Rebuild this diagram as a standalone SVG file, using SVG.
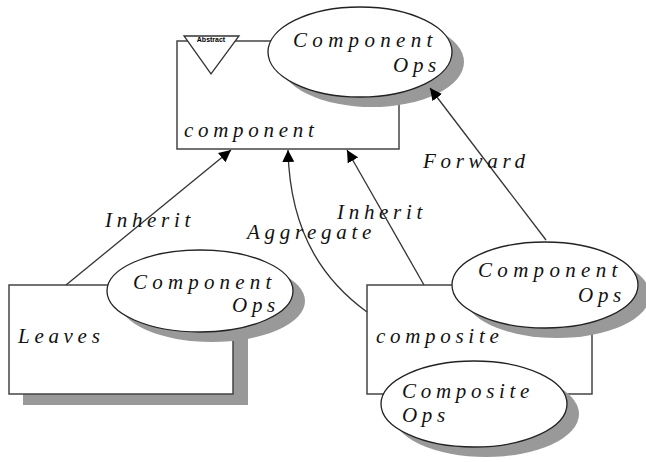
<svg xmlns="http://www.w3.org/2000/svg" width="646" height="462" viewBox="0 0 646 462">
<style>
.box{fill:#fff;stroke:#444;stroke-width:1.5}
.ell{fill:#fff;stroke:#222;stroke-width:1.3}
.sh{fill:#999;stroke:none}
.t{font-family:"Liberation Serif",serif;font-style:italic;font-size:21px;letter-spacing:4.7px;fill:#111}
.e{stroke:#333;stroke-width:1.3;fill:none;marker-end:url(#ah)}
</style>
<defs>
<marker id="ah" viewBox="0 0 10 10" refX="10" refY="5" markerWidth="12" markerHeight="12" markerUnits="userSpaceOnUse" orient="auto">
<path d="M0,0 L10,5 L0,10 z" fill="#000"/>
</marker>
</defs>
<rect width="646" height="462" fill="#fff"/>
<g id="component">
<rect class="box" x="177" y="41" width="222" height="108"/>
<polygon points="184,36 239,36 211,74" fill="#fff" stroke="#333" stroke-width="1.3"/>
<text x="211" y="42" font-family="Liberation Sans,sans-serif" font-size="7" font-weight="bold" text-anchor="middle" fill="#000">Abstract</text>
<text class="t" x="184" y="137">component</text>
</g>
<g id="component-ops-top">
<ellipse class="sh" cx="372" cy="62" rx="92" ry="45"/>
<ellipse class="ell" cx="360" cy="52" rx="92" ry="45"/>
<text class="t" x="293" y="47" textLength="144" lengthAdjust="spacing">Component</text>
<text class="t" x="441" y="72" text-anchor="end">Ops</text>
</g>
<g id="leaves">
<rect class="sh" x="23" y="296" width="225" height="109"/>
<rect class="box" x="9" y="285" width="224" height="109"/>
<text class="t" x="18" y="343">Leaves</text>
</g>
<g id="leaves-ops">
<ellipse class="sh" cx="212" cy="301" rx="93" ry="41"/>
<ellipse class="ell" cx="200" cy="291" rx="93" ry="41"/>
<text class="t" x="133" y="289" textLength="143" lengthAdjust="spacing">Component</text>
<text class="t" x="280" y="312" text-anchor="end">Ops</text>
</g>
<g id="composite">
<rect class="box" x="367" y="285" width="225" height="109"/>
<text class="t" x="376" y="343">composite</text>
</g>
<g id="composite-component-ops">
<ellipse class="sh" cx="557" cy="295" rx="93" ry="43"/>
<ellipse class="ell" cx="545" cy="285" rx="93" ry="43"/>
<text class="t" x="478" y="277" textLength="144" lengthAdjust="spacing">Component</text>
<text class="t" x="626" y="302" text-anchor="end">Ops</text>
</g>
<g id="composite-ops">
<ellipse class="sh" cx="486" cy="414" rx="93" ry="43"/>
<ellipse class="ell" cx="474" cy="404" rx="93" ry="43"/>
<text class="t" x="402" y="398">Composite</text>
<text class="t" x="402" y="422">Ops</text>
</g>
<g id="connectors">
<path class="e" d="M66,285 L231,150"/>
<path class="e" d="M367,312 C330,285 290,240 288,150"/>
<path class="e" d="M424,285 L347,150"/>
<path class="e" d="M546,240 L430,88"/>
<text class="t" x="105" y="227">Inherit</text>
<text class="t" x="247" y="239">Aggregate</text>
<text class="t" x="337" y="219">Inherit</text>
<text class="t" x="423" y="168">Forward</text>
</g>
</svg>
